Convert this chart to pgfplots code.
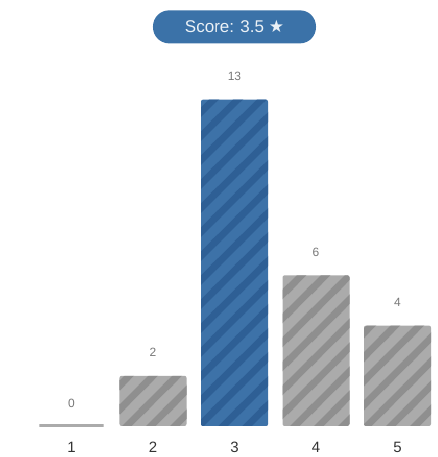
\documentclass[border=0pt]{standalone}
\usepackage{pgfplots}
\pgfplotsset{compat=1.18}
\usetikzlibrary{patterns}
\usepackage{fontspec}
\setmainfont{Liberation Sans}
\newfontfamily\symfont{DejaVu Sans}

\definecolor{barblue}{HTML}{3D72A8}
\definecolor{stripeblue}{HTML}{2E5F95}
\definecolor{bargray}{HTML}{ABABAB}
\definecolor{stripegray}{HTML}{8F8F8F}
\definecolor{pillblue}{HTML}{3B72A8}
\definecolor{labelgray}{HTML}{777777}
\definecolor{tickdark}{HTML}{333333}

% diagonal stripes, 24pt square tile
\pgfdeclarepatternformonly{wide stripes}{\pgfpointorigin}{\pgfpoint{24pt}{24pt}}{\pgfpoint{24pt}{24pt}}{
  \pgfsetlinewidth{7pt}
  \pgfpathmoveto{\pgfpoint{-6pt}{-6pt}}\pgfpathlineto{\pgfpoint{30pt}{30pt}}
  \pgfpathmoveto{\pgfpoint{-6pt}{18pt}}\pgfpathlineto{\pgfpoint{6pt}{30pt}}
  \pgfpathmoveto{\pgfpoint{18pt}{-6pt}}\pgfpathlineto{\pgfpoint{30pt}{6pt}}
  \pgfusepath{stroke}
}

\begin{document}
\begin{tikzpicture}
\begin{axis}[
  at={(0,0)}, anchor=south west,
  scale only axis, width=438pt, height=457pt,
  xmin=0.1227, xmax=5.497, ymin=-1.235, ymax=16.97,
  axis line style={draw=none},
  ytick=\empty, xtick={1,2,3,4,5},
  major tick length=0pt,
  /pgf/number format/assume math mode=true,
  xticklabel style={anchor=center, yshift=10pt, font=\fontsize{15}{18}\selectfont, text=tickdark},
  ybar, bar width=67pt, bar shift=0pt,
  nodes near coords,
  nodes near coords style={anchor=center, yshift=23pt, font=\fontsize{12}{14}\selectfont, text=labelgray,
    /pgf/number format/assume math mode=true},
  clip=false,
]
% rating 1: zero, shown as a thin strip
\addplot[fill=bargray, draw=bargray, line width=3pt, bar width=64pt] coordinates {(1,0)};
% grey bars
\addplot[fill=bargray, draw=none, rounded corners=2pt,
  postaction={pattern=wide stripes, pattern color=stripegray}]
  coordinates {(2,2) (4,6) (5,4)};
% highlighted bar
\addplot[fill=barblue, draw=none, rounded corners=2pt,
  postaction={pattern=wide stripes, pattern color=stripeblue}]
  coordinates {(3,13)};

\node[fill=pillblue, rounded corners=16pt, minimum width=163pt, minimum height=33pt,
  text=white!90!pillblue, font=\fontsize{17}{20}\selectfont]
  at (axis cs:3,15.9) {Score: 3.5 {\symfont ★}};
\end{axis}
\pgfresetboundingbox
\path[use as bounding box] (0,0) rectangle (438pt,457pt);
\end{tikzpicture}
\end{document}
